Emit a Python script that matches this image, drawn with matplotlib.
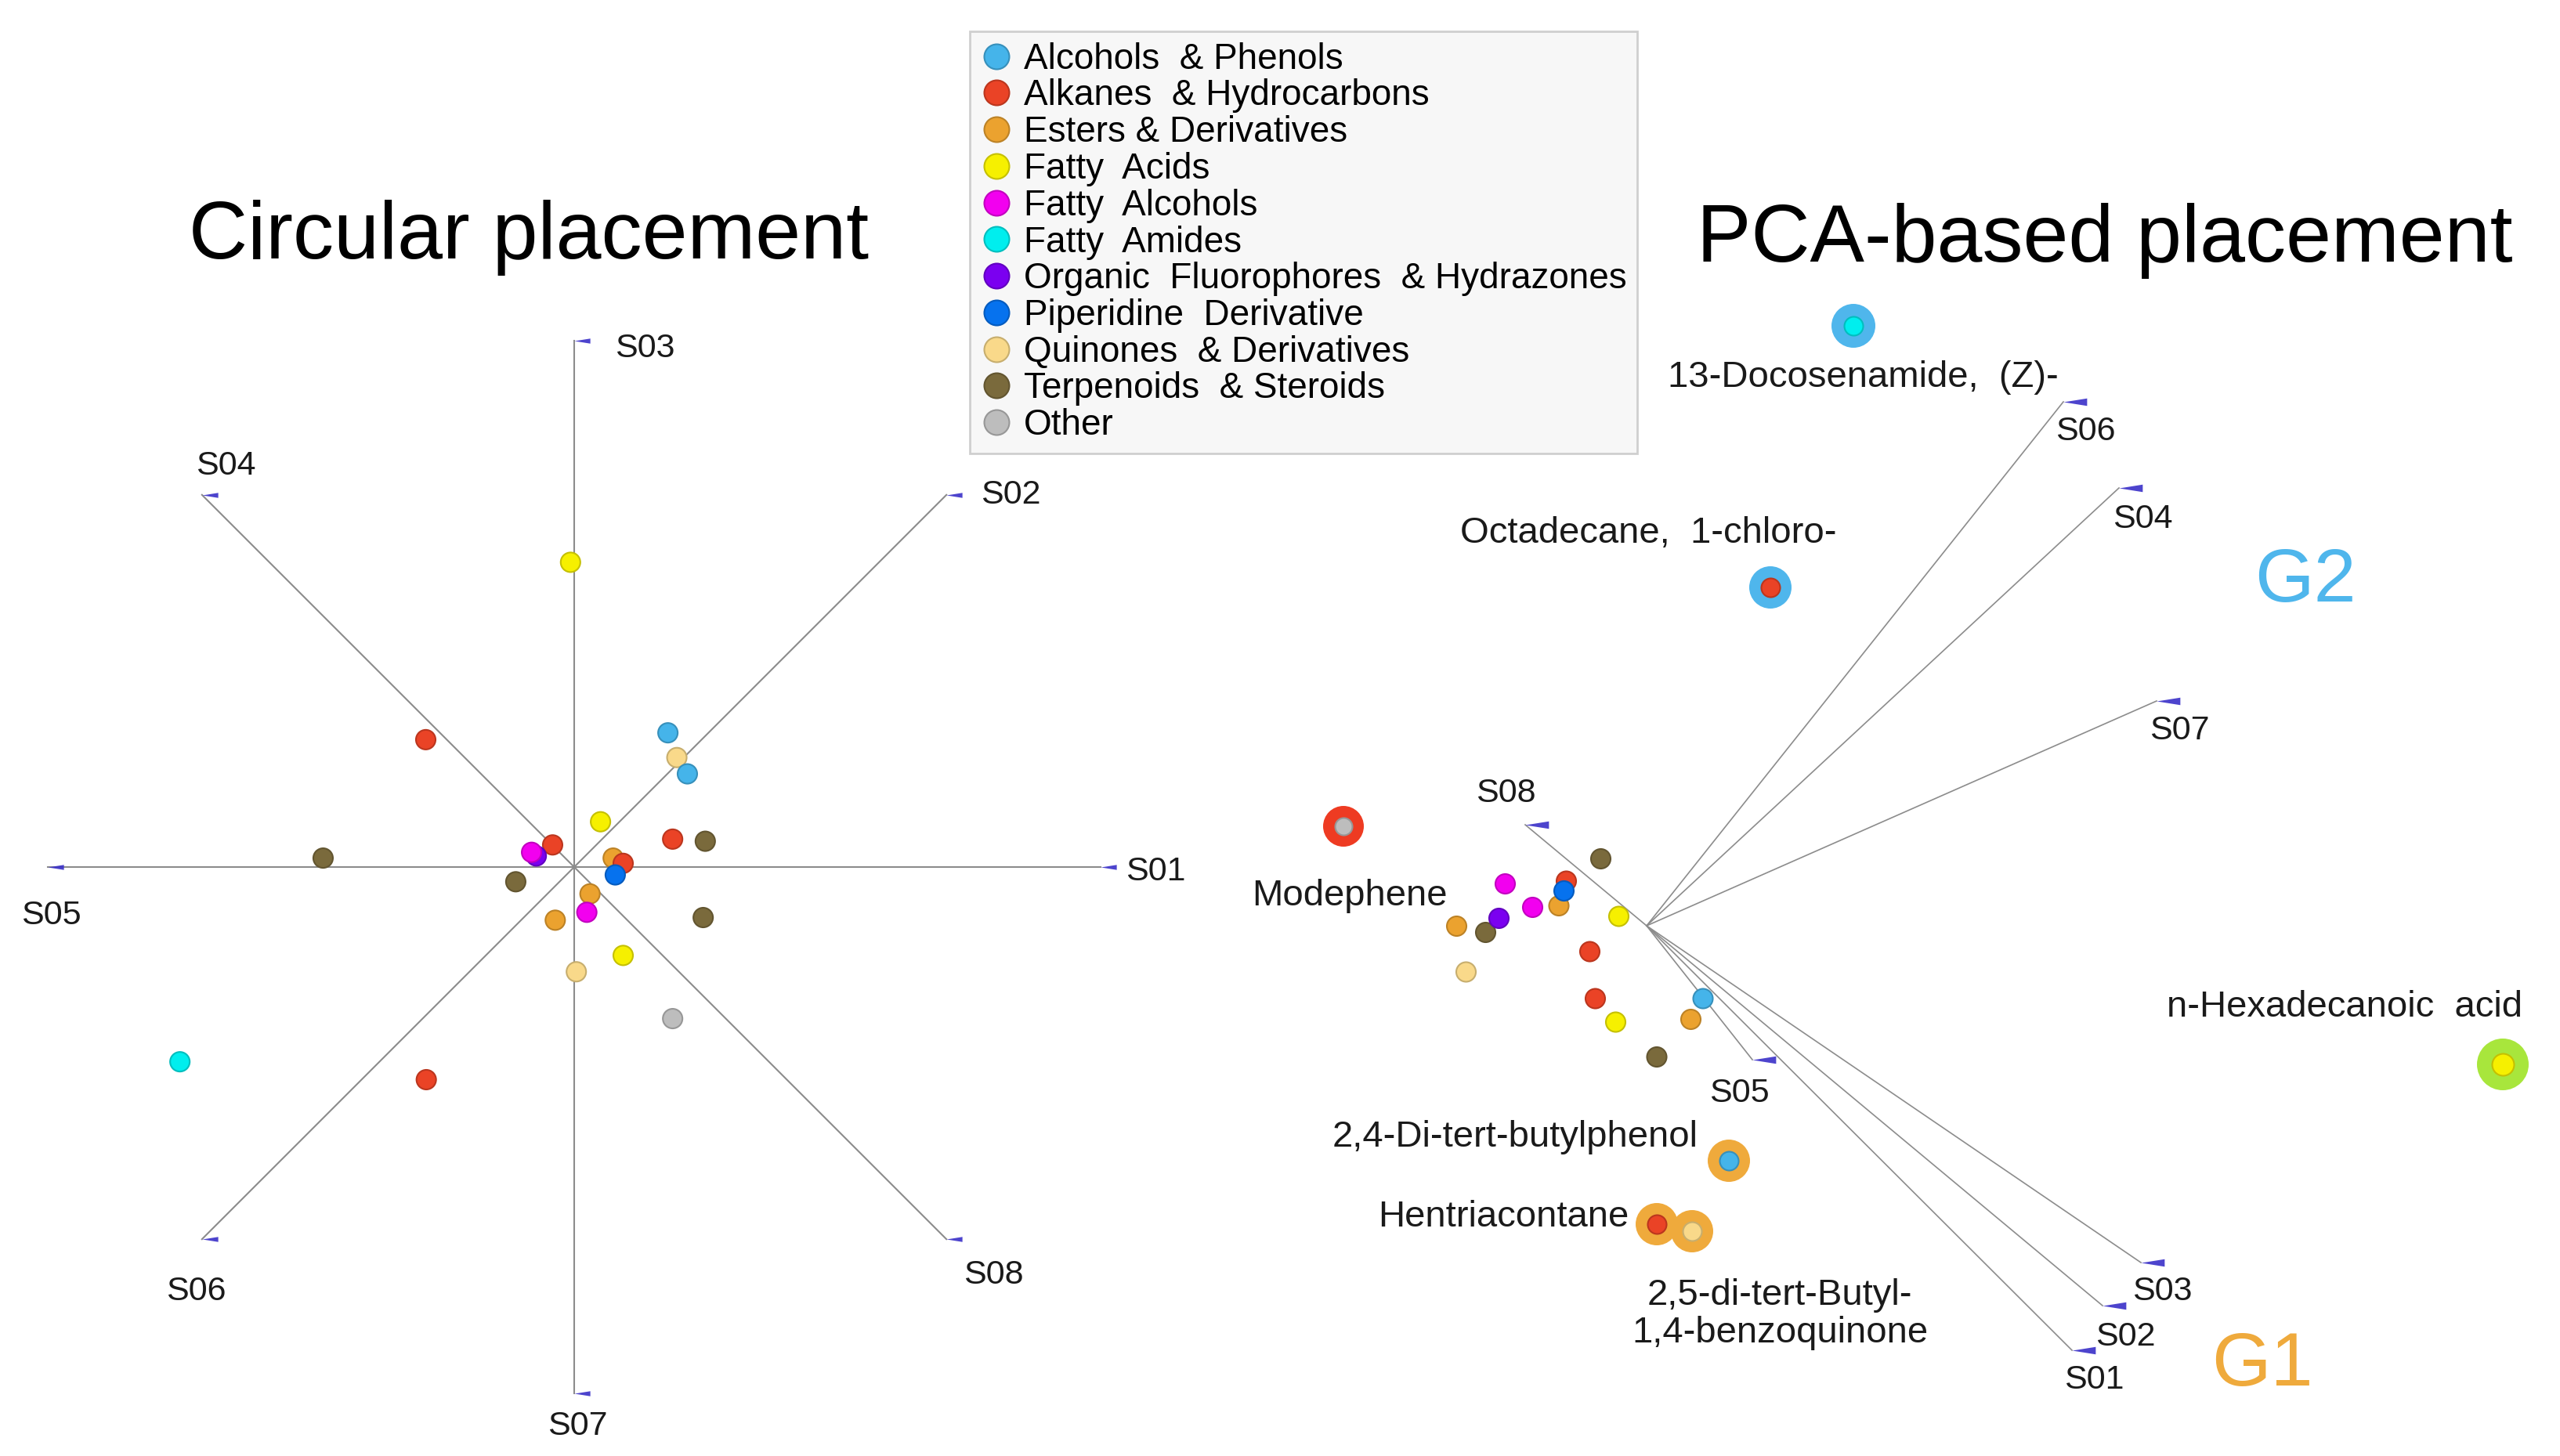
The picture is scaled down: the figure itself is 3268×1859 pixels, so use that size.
import matplotlib
matplotlib.use('Agg')
import matplotlib.pyplot as plt
import matplotlib.colors as mcolors
from matplotlib.lines import Line2D
from matplotlib.path import Path
import numpy as np

plt.rcParams['font.family'] = ['Liberation Sans', 'DejaVu Sans']

W, H = 3268, 1859

# --- categories / legend ---
cat_keys = ['alc', 'alk', 'est', 'fa', 'fal', 'fam', 'ofh', 'pip', 'qui', 'ter', 'oth']
cat_labels = ['Alcohols  & Phenols', 'Alkanes  & Hydrocarbons', 'Esters & Derivatives',
              'Fatty  Acids', 'Fatty  Alcohols', 'Fatty  Amides',
              'Organic  Fluorophores  & Hydrazones', 'Piperidine  Derivative',
              'Quinones  & Derivatives', 'Terpenoids  & Steroids', 'Other']
cat_colors = ['#45b4ea', '#ea4326', '#eba22f', '#f6f000', '#f200ef', '#00eeee',
              '#7b00f0', '#0672ee', '#f9d98a', '#7a6a3c', '#bdbdbd']
col = dict(zip(cat_keys, cat_colors))

# --- circular placement (unit radius) ---
samples = ['S01', 'S02', 'S03', 'S04', 'S05', 'S06', 'S07', 'S08']
circ_x = [-0.007, -0.282, 0.178, 0.195, 0.215, 0.050, 0.187, 0.249, -0.041, -0.072,
          -0.081, -0.477, 0.074, 0.093, 0.078, -0.111, 0.030, -0.036, 0.024, 0.245,
          0.093, 0.004, 0.187, -0.749, -0.281]
circ_y = [0.579, 0.242, 0.255, 0.208, 0.177, 0.086, 0.053, 0.049, 0.042, 0.021,
          0.028, 0.017, 0.017, 0.007, -0.015, -0.028, -0.051, -0.101, -0.086, -0.096,
          -0.168, -0.199, -0.288, -0.370, -0.404]
circ_cat = ['fa', 'alk', 'alc', 'qui', 'alc', 'fa', 'alk', 'ter', 'alk', 'ofh',
            'fal', 'ter', 'est', 'alk', 'pip', 'ter', 'est', 'est', 'fal', 'ter',
            'fa', 'qui', 'oth', 'fam', 'alk']

# --- PCA-based placement ---
pca_x = [-0.117, -0.361, -0.205, -0.291, -0.224, -0.211, -0.411, -0.377, -0.485, -0.071,
         -0.461, -0.145, -0.131, -0.079, 0.144, 0.113, 0.026]
pca_y = [0.171, 0.107, 0.114, 0.047, 0.051, 0.089, -0.017, 0.019, -0.001, 0.024,
         -0.118, -0.066, -0.186, -0.246, -0.186, -0.239, -0.335]
pca_cat = ['ter', 'fal', 'alk', 'fal', 'est', 'pip', 'ter', 'ofh', 'est', 'fa',
           'qui', 'alk', 'alk', 'fa', 'alc', 'est', 'ter']

load_x = [1.086, 1.164, 1.262, 1.206, 0.270, 1.064, 1.302, -0.310]
load_y = [-1.084, -0.970, -0.860, 1.118, -0.342, 1.338, 0.574, 0.258]

hl_names = ['13-Docosenamide,  (Z)-', 'Octadecane,  1-chloro-', 'Modephene',
            'n-Hexadecanoic  acid', '2,4-Di-tert-butylphenol', 'Hentriacontane',
            '2,5-di-tert-Butyl-\n1,4-benzoquinone']
hl_x = [0.528, 0.316, -0.774, 2.186, 0.210, 0.026, 0.116]
hl_y = [1.532, 0.864, 0.254, -0.354, -0.600, -0.762, -0.780]
hl_cat = ['fam', 'alk', 'oth', 'fa', 'alc', 'alk', 'qui']
hl_group = ['G2', 'G2', 'red', 'lime', 'G1', 'G1', 'G1']

# --- styles / layout ---
ring_col = {'G2': '#4fb6ec', 'G1': '#efaa3c', 'red': '#ee3b22', 'lime': '#a8e63c'}
ring_px = [56, 54, 52, 66, 54, 54, 54]
inner_px = [24, 24, 22, 28, 24, 24, 24]
line_col = '#8c8c8c'
tip_col = '#3a30c8'

circ_lab_pos = [(1.048, -0.009, 'left'), (0.772, 0.707, 'left'), (0.077, 0.985, 'left'),
                (-0.662, 0.762, 'center'), (-0.994, -0.092, 'center'), (-0.719, -0.807, 'center'),
                (0.006, -1.063, 'center'), (0.796, -0.775, 'center')]
pca_lab_pos = [(1.142, -1.160), (1.222, -1.050), (1.316, -0.934), (1.266, 1.038),
               (0.236, -0.428), (1.120, 1.262), (1.360, 0.498), (-0.360, 0.338)]
hl_lab_pos = [(0.552, 1.400), (0.004, 1.002), (-0.758, 0.076), (1.782, -0.208),
              (-0.336, -0.540), (-0.366, -0.744), (0.340, -0.992)]


def dark(c, f=0.8):
    r, g, b = mcolors.to_rgb(c)
    return (r * f, g * f, b * f)


def px_s(d):
    return (d * 0.72) ** 2


def full_axes(fig, cx, cy, scale):
    # axes covering the figure, origin at pixel (cx, cy), `scale` pixels per unit
    ax = fig.add_axes([0, 0, 1, 1])
    ax.set_xlim(-cx / scale, (W - cx) / scale)
    ax.set_ylim((cy - H) / scale, cy / scale)
    ax.axis('off')
    ax.patch.set_alpha(0)
    return ax


wedge = Path([(0, 0), (1, 0.16), (1, -0.16), (0, 0)],
             [Path.MOVETO, Path.LINETO, Path.LINETO, Path.CLOSEPOLY])

fig = plt.figure(figsize=(W / 100, H / 100), dpi=100)
fig.patch.set_facecolor('white')

# ---------------- circular ----------------
ax1 = full_axes(fig, 733, 1107, 672)
ang = np.deg2rad(np.arange(8) * 45)
tx, ty = np.cos(ang), np.sin(ang)
for i in range(8):
    ax1.plot([0, tx[i]], [0, ty[i]], color=line_col, lw=1.5, zorder=1)
    ax1.plot(tx[i], ty[i], marker=wedge, ms=29, color=tip_col, mec='none', alpha=0.9, zorder=2)
    lx, ly, ha = circ_lab_pos[i]
    ax1.text(lx, ly, samples[i], fontsize=31, ha=ha, va='center', color='#1a1a1a')

ax1.scatter(circ_x, circ_y, s=px_s(25), c=[col[c] for c in circ_cat],
            edgecolors=[dark(col[c]) for c in circ_cat], linewidths=1.5, zorder=3)
ax1.text(-0.086, 1.195, 'Circular placement', fontsize=75, ha='center', va='center')

# ---------------- PCA ----------------
ax2 = full_axes(fig, 2102, 1182, 500)
for i in range(8):
    ax2.plot([0, load_x[i]], [0, load_y[i]], color=line_col, lw=1.2, zorder=1)
    ax2.plot(load_x[i], load_y[i], marker=wedge, ms=43, color=tip_col, mec='none', alpha=0.9, zorder=2)
    ax2.text(pca_lab_pos[i][0], pca_lab_pos[i][1], samples[i], fontsize=31,
             ha='center', va='center', color='#1a1a1a')

ax2.scatter(pca_x, pca_y, s=px_s(25), c=[col[c] for c in pca_cat],
            edgecolors=[dark(col[c]) for c in pca_cat], linewidths=1.5, zorder=3)

for i in range(len(hl_names)):
    ax2.scatter(hl_x[i], hl_y[i], s=px_s(ring_px[i]), c=ring_col[hl_group[i]],
                edgecolors='none', zorder=4)
    ax2.scatter(hl_x[i], hl_y[i], s=px_s(inner_px[i]), c=col[hl_cat[i]],
                edgecolors=dark(col[hl_cat[i]]), linewidths=1.5, zorder=5)
    ax2.text(hl_lab_pos[i][0], hl_lab_pos[i][1], hl_names[i], fontsize=34,
             ha='center', va='center', color='#1a1a1a', linespacing=1.1)

ax2.text(1.682, 0.878, 'G2', fontsize=70, ha='center', va='center', color=ring_col['G2'])
ax2.text(1.572, -1.124, 'G1', fontsize=70, ha='center', va='center', color=ring_col['G1'])
ax2.text(1.170, 1.748, 'PCA-based placement', fontsize=75, ha='center', va='center')

# ---------------- legend ----------------
handles = [Line2D([], [], ls='', marker='o', markersize=23, markerfacecolor=c,
                  markeredgecolor=dark(c), markeredgewidth=1.5) for c in cat_colors]
leg = fig.legend(handles, cat_labels, loc='upper left',
                 bbox_to_anchor=(1238 / W, 1 - 40 / H), fontsize=33,
                 labelspacing=0.06, handlelength=0.9, handletextpad=0.3,
                 borderpad=0.3, borderaxespad=0, fancybox=False,
                 frameon=True)
leg.get_frame().set_facecolor('#f6f6f6')
leg.get_frame().set_edgecolor('#c4c4c4')
leg.get_frame().set_linewidth(2)

fig.savefig('out.png', dpi=100)
